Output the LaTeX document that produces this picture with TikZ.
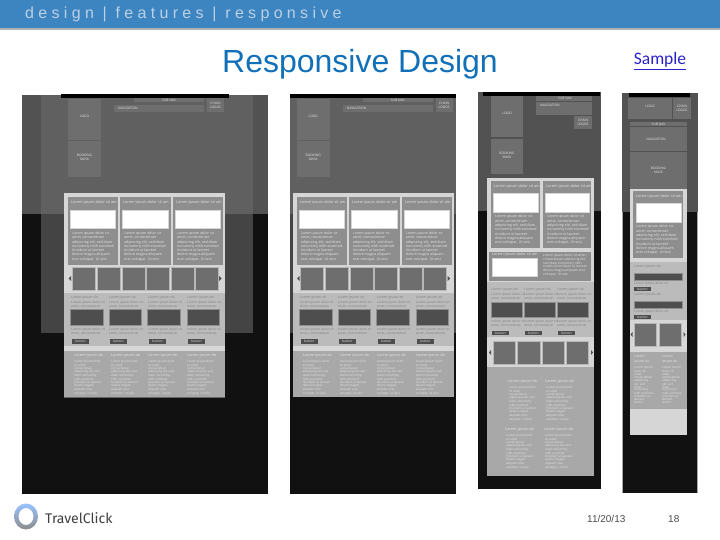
\documentclass[tikz,border=0pt]{standalone}
\usepackage{fontspec}
\setmainfont{Liberation Sans}
\newfontfamily\wirefont{Open Sans}
\newfontfamily\linkfont{Carlito}
\newfontfamily\brandfont{Fira Sans}

\definecolor{barblue}{HTML}{3D85C0}
\definecolor{barink}{HTML}{BBD0E4}
\definecolor{titleblue}{HTML}{1270B8}
\definecolor{linkblue}{HTML}{2A22C8}
\definecolor{wireblack}{HTML}{111111}
\definecolor{wiretop}{HTML}{525252}
\definecolor{wiremid}{HTML}{606060}
\definecolor{wirelow}{HTML}{444444}
\definecolor{wirebox}{HTML}{6E6E6E}
\definecolor{wirecard}{HTML}{8E8E8E}
\definecolor{wirelight}{HTML}{D6D6D6}
\definecolor{wiresect}{HTML}{BBBBBB}
\definecolor{wirefoot}{HTML}{A8A8A8}
\definecolor{wiredark}{HTML}{4E4E4E}
\definecolor{wireink}{HTML}{E4E4E4}
\definecolor{wiregrey}{HTML}{808080}

\newcommand{\cardfont}{\wirefont\fontsize{3.6}{4.3}\selectfont}
\newcommand{\listfont}{\wirefont\fontsize{3}{2.9}\selectfont}
\newcommand{\headfont}{\wirefont\fontsize{3.8}{4.3}\selectfont}
\newcommand{\cardlines}{Lorem ipsum dolor sit\\amet, consectetuer\\adipiscing elit, sed diam\\nonummy nibh euismod\\tincidunt ut laoreet\\dolore magna aliquam\\erat volutpat. Ut wisi}
\newcommand{\listlines}{Lorem ipsum dolor\\sit amet\\consectetuer\\adipiscing elit, sed\\diam nonummy\\nibh euismod\\tincidunt ut laoreet\\dolore magna\\aliquam erat\\volutpat. Ut wisi}

\tikzset{
  wbox/.style={fill=wirebox,draw=wiremid,line width=.4pt},
  boxlabel/.style={font=\wirefont\fontsize{3.3}{4}\selectfont,text=wireink,align=center,inner sep=0pt},
  cardhead/.style={font=\headfont,text=wireink,anchor=west,inner sep=0pt},
  cardbody/.style={font=\cardfont,text=wireink,anchor=north west,align=left,inner sep=0pt},
  secthead/.style={font=\wirefont\fontsize{3.5}{4}\selectfont,text=wiregrey,anchor=west,inner sep=0pt},
  sectbody/.style={text=wiregrey,anchor=north west,align=left,inner sep=0pt,font=\wirefont\fontsize{3.3}{4.2}\selectfont},
  listhead/.style={font=\headfont,text=wireink,anchor=west,inner sep=0pt},
  listbody/.style={font=\listfont,text=wireink,anchor=north west,align=left,inner sep=0pt},
  thumb/.style={fill=wirebox,draw=wirelight!70!wirebox,line width=.5pt},
  whitebox/.style={fill=white,draw=wirelight,line width=.4pt},
  darkbox/.style={fill=wiredark,draw=wirecard,line width=.4pt},
  stepper/.style={fill=wiredark},
}

% shared wireframe of the two wide pages
\newcommand{\widepage}{
  \fill[wirebox] (68,99) rectangle (101,140);
  \fill[wirebox] (68,141) rectangle (101,177);
  \fill[wirebox] (134,98) rectangle (204,102);
  \fill[wirebox] (114,105) rectangle (204,112);
  \fill[wirebox] (207,98) rectangle (224,112);
  \node[boxlabel] (logo) at (84.5,116) {LOGO};
  \node[boxlabel] (mask) at (84.5,157) {BOOKING\\MASK};
  \node[boxlabel] (subnav) at (169,100) {SUB NAV};
  \node[boxlabel,anchor=west] (nav) at (118,108.5) {NAVIGATION};
  \node[boxlabel] (chain) at (215.5,105) {CHAIN\\LOGOS};
  \fill[wirelight] (64,193) rectangle (225,293);
  \fill[wiresect] (64,293) rectangle (225,346);
  \fill[wirelight] (64,346) rectangle (225,351);
  \fill[wirefoot] (64,351) rectangle (225,397);
  \foreach \a/\b/\c in {68/118/1,120/171/2,173/223/3} {
    \fill[wirecard] (\a,197) rectangle (\b,265);
    \draw[whitebox] (\a+2.5,210) rectangle (\b-2.5,228);
    \node[cardhead] (cardhead\c) at (\a+3,203) {Lorem ipsum dolor sit am};
    \node[cardbody] (cardbody\c) at (\a+4,231.5) {\cardlines};
  }
  \foreach \a in {72,97,122,146,171,195}
    \draw[thumb] (\a,267) rectangle (\a+23,290);
  \fill[wiredark] (71,276) -- (68.5,278.5) -- (71,281) -- cycle;
  \fill[wiredark] (219,276) -- (221.5,278.5) -- (219,281) -- cycle;
  \foreach \a/\b/\t/\s in {70.5/103/71/1,109/141/109/2,147/180/148/3,187/219/187/4} {
    \node[secthead] (secthead\s) at (\t,298) {Lorem ipsum do};
    \node[sectbody] (secttop\s) at (\t,300.5) {Lorem ipsum dolor sit\\amet, consectetuer};
    \draw[darkbox] (\a,309) rectangle (\b,325);
    \node[sectbody] (sectlow\s) at (\t,327.5) {Lorem ipsum dolor sit\\amet, consectetuer};
    \fill[stepper] (\t+1,339) rectangle (\t+18,343.5);
    \node[boxlabel] (button\s) at (\t+9.5,341.2) {button};
  }
  \foreach \a/\s in {74/1,111/2,148/3,187/4} {
    \node[listhead] (listhead\s) at (\a,356) {Lorem ipsum do};
    \node[listbody] (listbody\s) at (\a,360.5) {\listlines};
  }
}

\begin{document}
\begin{tikzpicture}[x=1pt,y=-1pt]
  \useasboundingbox (0,0) rectangle (720,540);
  \fill[white] (0,0) rectangle (720,540);

  % banner and title
  \fill[black!30] (0,28) rectangle (720,30);
  \fill[barblue] (0,0) rectangle (720,28);
  \node[anchor=west,inner sep=0pt,text=barink,font={\fontsize{16}{18}\selectfont\addfontfeature{LetterSpace=27}}] (crumb) at (25,14) {design | features | responsive};
  \node[inner sep=0pt,text=titleblue,font=\fontsize{32}{36}\selectfont] (title) at (360,64) {Responsive Design};
  \node[inner sep=0pt,text=linkblue,font={\linkfont\fontsize{17.5}{20}\selectfont}] (sample) at (660,61) {\underline{Sample}};

  % first page
  \fill[wireblack] (22,95) rectangle (268,494);
  \fill[wiretop] (22,95) rectangle (268,214);
  \fill[wiremid] (41,95) rectangle (253,214);
  \fill[wirelow] (41,214) rectangle (253,333);
  \fill[black] (61,94) rectangle (229,98);
  \begin{scope}[name prefix=pagea-]
    \fill[black!60] (64,397) rectangle (225,398);
    \widepage
  \end{scope}

  % second page
  \fill[wireblack] (290,94) rectangle (456,494);
  \fill[wiremid] (290,94) rectangle (456,214);
  \fill[wirelow] (290,214) rectangle (456,333);
  \fill[black] (290,94) rectangle (456,98);
  \begin{scope}[xshift=228.7pt,name prefix=pageb-]
    \widepage
  \end{scope}

  % third page
  \fill[wireblack] (478,92) rectangle (601,489);
  \fill[wiretop] (478,92) rectangle (601,211);
  \fill[black] (483,92) rectangle (600,96);
  \fill[wirebox] (491,96) rectangle (523,137);
  \fill[wirebox] (491,139) rectangle (523,174);
  \fill[wirebox] (536,102) rectangle (592,115.5);
  \fill[wirebox] (536,96) rectangle (592,101);
  \fill[wirebox] (574,116.5) rectangle (592,129);
  \node[boxlabel] (logo3) at (507,113) {LOGO};
  \node[boxlabel] (mask3) at (507,155) {BOOKING\\MASK};
  \node[boxlabel] (subnav3) at (565,98.5) {SUB NAV};
  \node[boxlabel,anchor=west] (nav3) at (540,105.5) {NAVIGATION};
  \node[boxlabel] (chain3) at (583,122.5) {CHAIN\\LOGOS};
  \fill[wirelight] (487,178) rectangle (594,282);
  \fill[wiresect] (487,282) rectangle (594,337);
  \fill[wirelight] (487,337) rectangle (594,367);
  \fill[wirefoot] (487,367) rectangle (594,476);
  \foreach \a/\b/\c in {491/540/1,543/591/2} {
    \fill[wirecard] (\a,181) rectangle (\b,248);
    \draw[whitebox] (\a+2,193) rectangle (\b-1.5,212);
    \node[cardhead] (thirdhead\c) at (\a+3,186.5) {Lorem ipsum dolor sit am};
    \node[cardbody] (thirdbody\c) at (\a+4,215) {\cardlines};
  }
  \fill[wirecard] (489,252) rectangle (591,281);
  \draw[whitebox] (492,258) rectangle (537,276);
  \node[cardhead] (widehead) at (492,255) {Lorem ipsum dolor sit am};
  \node[cardbody,font={\wirefont\fontsize{3.3}{3.7}\selectfont}] (widebody) at (543,254) {Lorem ipsum dolor sit amet,\\consectetuer adipiscing elit,\\sed diam nonummy nibh\\euismod tincidunt ut laoreet\\dolore magna aliquam erat\\volutpat. Ut wisi};
  \foreach \a/\b/\t/\s in {491/522/491/1,524/555/524/2,557/588/557/3} {
    \node[secthead] (thirdsect\s) at (\t,290) {Lorem ipsum do};
    \node[sectbody] (thirdtop\s) at (\t,292.5) {Lorem ipsum dolor sit\\amet, consectetuer};
    \draw[darkbox] (\a,302) rectangle (\b,317);
    \node[sectbody] (thirdlow\s) at (\t,319.5) {Lorem ipsum dolor sit\\amet, consectetuer};
    \fill[stepper] (\t+1,331) rectangle (\t+18,335);
    \node[boxlabel] (thirdbutton\s) at (\t+9.5,333) {button};
  }
  \foreach \a in {493,517.5,542,566}
    \draw[thumb] (\a,341) rectangle (\a+22.5,364);
  \fill[wiredark] (491,350) -- (489,352.5) -- (491,355) -- cycle;
  \fill[wiredark] (591,350) -- (593,352.5) -- (591,355) -- cycle;
  \foreach \a/\y/\s in {508/382/1,545/382/2,505/430/3,544/430/4} {
    \node[listhead] (thirdlist\s) at (\a,\y) {Lorem ipsum do};
    \node[listbody] (thirdbody\s b) at (\a+1,\y+4) {\listlines};
  }

  % fourth page
  \fill[wireblack] (622,93) rectangle (698,493);
  \fill[wiretop] (622,93) rectangle (698,212);
  \fill[wirefoot] (622,212) rectangle (623,493);
  \fill[wirefoot] (697,212) rectangle (698,493);
  \fill[black] (629,93) rectangle (690,97);
  \fill[wirebox] (628,98) rectangle (672,119);
  \fill[wirebox] (673,98) rectangle (691,119);
  \fill[wirebox] (630,122) rectangle (687,126);
  \fill[wirebox] (630,127) rectangle (687,151);
  \fill[wirebox] (630,152) rectangle (687,189);
  \node[boxlabel] (logo4) at (650,106) {LOGO};
  \node[boxlabel] (chain4) at (682,108) {CHAIN\\LOGOS};
  \node[boxlabel] (subnav4) at (658.5,124) {SUB NAV};
  \node[boxlabel] (nav4) at (656,139) {NAVIGATION};
  \node[boxlabel] (mask4) at (658.5,170) {BOOKING\\MASK};
  \fill[wirelight] (630,189) rectangle (687,262);
  \fill[wiresect] (630,262) rectangle (687,320);
  \fill[wirelight] (630,320) rectangle (687,352);
  \fill[wirefoot] (630,352) rectangle (687,409);
  \fill[wirelight] (630,409) rectangle (687,435);
  \fill[wirecard] (633,191) rectangle (683,258);
  \draw[whitebox] (636,203) rectangle (681,222);
  \node[cardhead] (fourthhead) at (636,197) {Lorem ipsum dolor sit am};
  \node[cardbody] (fourthbody) at (636,225) {\cardlines};
  \foreach \y/\s in {267/1,295/2} {
    \node[secthead] (fourthsect\s) at (634,\y) {Lorem ipsum do};
    \draw[darkbox] (634,\y+6) rectangle (682.5,\y+13.5);
    \node[sectbody] (fourthlow\s) at (634,\y+14.5) {Lorem ipsum dolor sit};
    \fill[stepper] (634,\y+20) rectangle (651,\y+23.5);
    \node[boxlabel] (fourthbutton\s) at (642.5,\y+21.8) {button};
  }
  \foreach \a in {634,659}
    \draw[thumb] (\a,323) rectangle (\a+22.5,346);
  \fill[wiredark] (632.5,332) -- (630.5,334.5) -- (632.5,337) -- cycle;
  \fill[wiredark] (683.5,332) -- (685.5,334.5) -- (683.5,337) -- cycle;
  \foreach \a/\s in {634/1,662/2} {
    \node[listhead,anchor=north west,align=left,font={\wirefont\fontsize{3.5}{4.3}\selectfont}] (fourthlist\s) at (\a,355) {Lorem\\ipsum do};
    \node[listbody] (fourthitems\s) at (\a,366) {Lorem ipsum\\dolor sit\\amet,\\consectetuer\\adipiscing\\elit, sed\\diam\\nonummy\\nibh euismod\\tincidunt ut\\laoreet\\dolore};
  }

  % footer
  \shade[top color=cyan!40!blue!40!white,bottom color=black!45,even odd rule] (26,516.5) ellipse (12pt and 13pt) (26,516.5) ellipse (7.5pt and 8.5pt);
  \node[anchor=west,inner sep=0pt,text=black!75,font={\brandfont\fontsize{14}{17}\selectfont}] (brand) at (45,518) {TravelClick};
  \node[anchor=west,inner sep=0pt,text=black!70,font=\fontsize{10}{12}\selectfont] (date) at (587,519) {11/20/13};
  \node[anchor=west,inner sep=0pt,text=black!70,font=\fontsize{10}{12}\selectfont] (pageno) at (668,519) {18};
\end{tikzpicture}
\end{document}
